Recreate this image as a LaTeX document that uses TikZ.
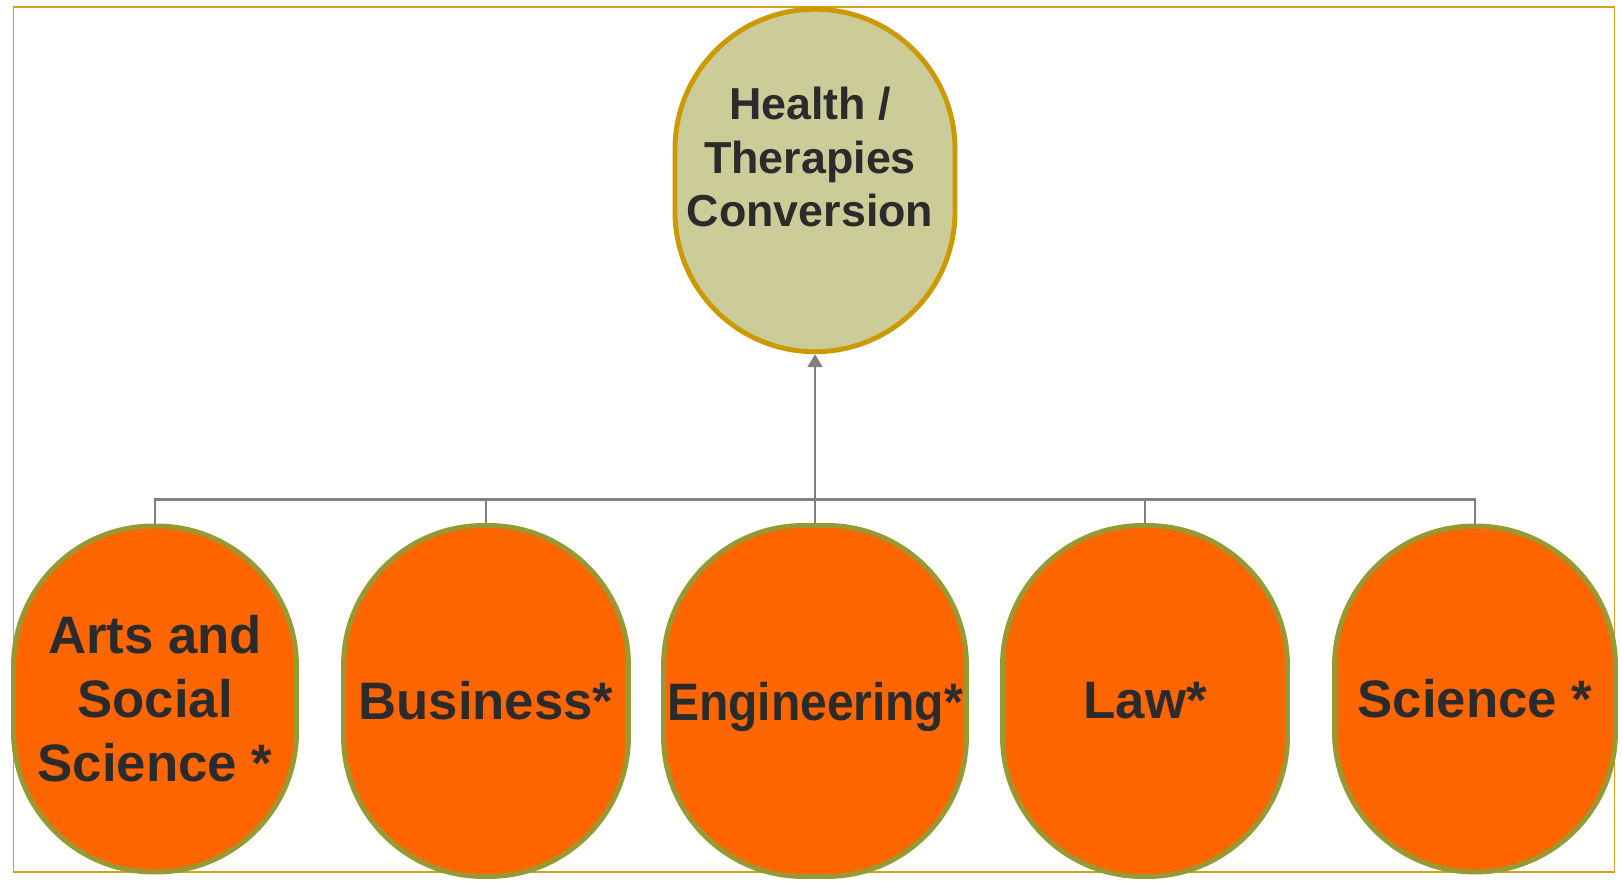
\documentclass[tikz,border=0pt]{standalone}
\usepackage{fontspec}
\newfontfamily\headfont{Liberation Sans}
\usepackage{tikz}
\usetikzlibrary{arrows.meta}
\definecolor{framegold}{HTML}{D4A21A}
\definecolor{rootfill}{HTML}{CCCC99}
\definecolor{rootline}{HTML}{CC9900}
\definecolor{leaffill}{HTML}{FF6600}
\definecolor{leafline}{HTML}{999933}
\definecolor{inkgray}{HTML}{2B2B2B}
\definecolor{wiregray}{HTML}{808080}

\begin{document}
\begin{tikzpicture}[
    pod/.style={rectangle, rounded corners=2.8cm, line width=2.8pt, inner sep=0pt},
    root/.style={pod, draw=rootline, fill=rootfill, minimum width=5.6cm, minimum height=6.85cm},
    leaf/.style={pod, draw=leafline, fill=leaffill, minimum width=5.7cm, minimum height=7.02cm,
      text=inkgray, align=center, font=\headfont\bfseries\fontsize{30}{36.4}\selectfont},
    roottext/.style={text=inkgray, align=center, font=\headfont\bfseries\fontsize{25.5}{30.7}\selectfont},
    wire/.style={draw=wiregray, line width=1.2pt}
  ]
      \useasboundingbox (0,0) rectangle (32.44,17.64);
      \draw[framegold, line width=1.1pt] (0.27,0.2) rectangle (32.29,17.5);
      \node[root] (health) at (16.30, 14.03) {};
      \node[roottext] (healthtext) at (16.20, 14.50) {Health /\\Therapies\\Conversion};
      \node[leaf, minimum width=5.66cm, minimum height=6.92cm] (arts) at (3.10, 3.66) {Arts and\\Social\\Science *};
      \node[leaf] (business) at (9.72, 3.62) {Business*};
      \node[leaf, minimum width=6.06cm, text depth=0pt] (engineering) at (16.30, 3.62) {\scalebox{0.91}[1]{Engineering*}};
      \node[leaf] (law) at (22.90, 3.62) {Law*};
      \node[leaf, minimum width=5.62cm, minimum height=6.92cm] (science) at (29.50, 3.66) {Science *};
      \coordinate (hub) at (16.30, 7.65);
      \draw[wire] (arts.north) |- (hub);
      \draw[wire] (business.north) |- (hub);
      \draw[wire] (engineering.north) -- (hub);
      \draw[wire] (law.north) |- (hub);
      \draw[wire] (science.north) |- (hub);
      \draw[wire, -{Triangle[width=0.3cm, length=0.26cm]}] (hub) -- (health.south);
\end{tikzpicture}
\end{document}
